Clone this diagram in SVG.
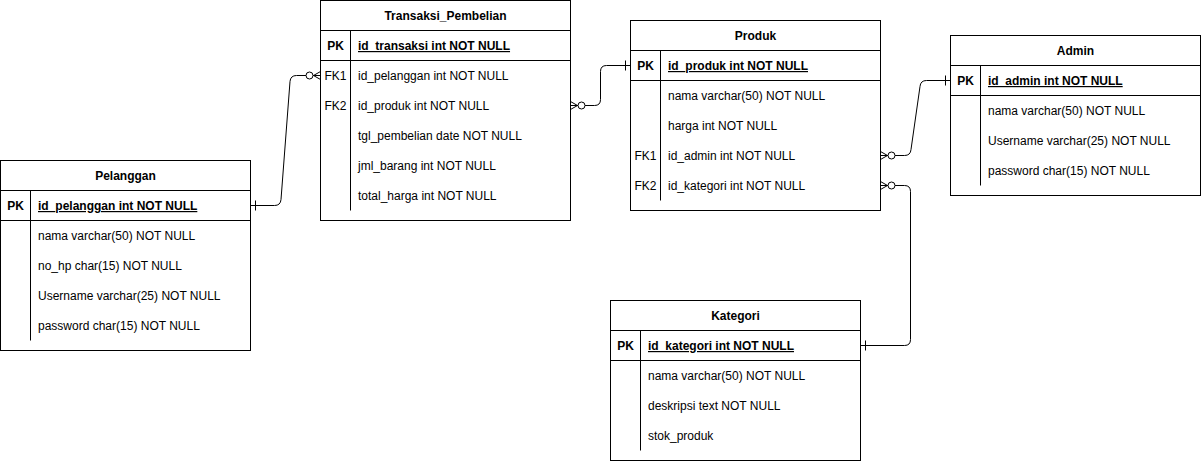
<svg xmlns="http://www.w3.org/2000/svg" width="1201" height="461" viewBox="0 0 1201 461">
<style>
.box{fill:#fff;stroke:#000;stroke-width:1}
.ln{stroke:#000;stroke-width:1;fill:none}
text{font-family:"Liberation Sans",Arial,sans-serif;font-size:12px;fill:#000}
.h{font-weight:bold;text-anchor:middle}
.k{text-anchor:middle}
.pk{font-weight:bold;text-decoration:underline}
.edge{stroke:#000;stroke-width:1;fill:none}
.circ{fill:#fff;stroke:#000;stroke-width:1}
</style>
<rect width="1201" height="461" fill="#fff"/>
<g id="pelanggan">
<rect class="box" x="0.5" y="160.5" width="250" height="190"/>
<path class="ln" d="M0.5 190.5H250.5M0.5 220.5H250.5M30.5 190.5V340.5"/>
<text class="h" x="125.5" y="180">Pelanggan</text>
<text class="k" x="15.5" y="210" font-weight="bold">PK</text>
<text class="pk" x="38" y="210">id_pelanggan int NOT NULL</text>
<text x="38" y="240">nama varchar(50) NOT NULL</text>
<text x="38" y="270">no_hp char(15) NOT NULL</text>
<text x="38" y="300">Username varchar(25) NOT NULL</text>
<text x="38" y="330">password char(15) NOT NULL</text>
</g>
<g id="transaksi">
<rect class="box" x="320.5" y="0.5" width="250" height="220"/>
<path class="ln" d="M320.5 30.5H570.5M320.5 60.5H570.5M350.5 30.5V210.5"/>
<text class="h" x="445.5" y="20">Transaksi_Pembelian</text>
<text class="k" x="335.5" y="50" font-weight="bold">PK</text>
<text class="pk" x="358" y="50">id_transaksi int NOT NULL</text>
<text class="k" x="335.5" y="80">FK1</text>
<text x="358" y="80">id_pelanggan int NOT NULL</text>
<text class="k" x="335.5" y="110">FK2</text>
<text x="358" y="110">id_produk int NOT NULL</text>
<text x="358" y="140">tgl_pembelian date NOT NULL</text>
<text x="358" y="170">jml_barang int NOT NULL</text>
<text x="358" y="200">total_harga int NOT NULL</text>
</g>
<g id="produk">
<rect class="box" x="630.5" y="20.5" width="250" height="190"/>
<path class="ln" d="M630.5 50.5H880.5M630.5 80.5H880.5M660.5 50.5V200.5"/>
<text class="h" x="755.5" y="40">Produk</text>
<text class="k" x="645.5" y="70" font-weight="bold">PK</text>
<text class="pk" x="668" y="70">id_produk int NOT NULL</text>
<text x="668" y="100">nama varchar(50) NOT NULL</text>
<text x="668" y="130">harga int NOT NULL</text>
<text class="k" x="645.5" y="160">FK1</text>
<text x="668" y="160">id_admin int NOT NULL</text>
<text class="k" x="645.5" y="190">FK2</text>
<text x="668" y="190">id_kategori int NOT NULL</text>
</g>
<g id="admin">
<rect class="box" x="950.5" y="35.5" width="250" height="160"/>
<path class="ln" d="M950.5 65.5H1200.5M950.5 95.5H1200.5M980.5 65.5V185.5"/>
<text class="h" x="1075.5" y="55">Admin</text>
<text class="k" x="965.5" y="85" font-weight="bold">PK</text>
<text class="pk" x="988" y="85">id_admin int NOT NULL</text>
<text x="988" y="115">nama varchar(50) NOT NULL</text>
<text x="988" y="145">Username varchar(25) NOT NULL</text>
<text x="988" y="175">password char(15) NOT NULL</text>
</g>
<g id="kategori">
<rect class="box" x="610.5" y="300.5" width="250" height="160"/>
<path class="ln" d="M610.5 330.5H860.5M610.5 360.5H860.5M640.5 330.5V450.5"/>
<text class="h" x="735.5" y="320">Kategori</text>
<text class="k" x="625.5" y="350" font-weight="bold">PK</text>
<text class="pk" x="648" y="350">id_kategori int NOT NULL</text>
<text x="648" y="380">nama varchar(50) NOT NULL</text>
<text x="648" y="410">deskripsi text NOT NULL</text>
<text x="648" y="440">stok_produk</text>
</g>
<g id="connectors">
<path class="edge" d="M250.5 205.5H274.5Q280.5 205.5 281 199.5L290 81.5Q290.5 75.5 296.5 75.5H320.5"/>
<path class="edge" d="M255.5 200.5V210.5"/>
<circle class="circ" cx="309.5" cy="75.5" r="3.5"/>
<path class="edge" d="M313.5 75.5L320.5 71.5M313.5 75.5L320.5 79.5"/>

<path class="edge" d="M570.5 105.5H594.5Q600.5 105.5 600.5 99.5V71.5Q600.5 65.5 606.5 65.5H630.5"/>
<path class="edge" d="M625.5 60.5V70.5"/>
<circle class="circ" cx="581.5" cy="105.5" r="3.5"/>
<path class="edge" d="M577.5 105.5L570.5 101.5M577.5 105.5L570.5 109.5"/>

<path class="edge" d="M880.5 155.5H904.5Q910.5 155.5 911 149.5L920 86.5Q920.5 80.5 926.5 80.5H950.5"/>
<path class="edge" d="M945.5 75.5V85.5"/>
<circle class="circ" cx="891.5" cy="155.5" r="3.5"/>
<path class="edge" d="M887.5 155.5L880.5 151.5M887.5 155.5L880.5 159.5"/>

<path class="edge" d="M880.5 185.5H904.5Q910.5 185.5 910.5 191.5V339.5Q910.5 345.5 904.5 345.5H860.5"/>
<path class="edge" d="M865.5 340.5V350.5"/>
<circle class="circ" cx="891.5" cy="185.5" r="3.5"/>
<path class="edge" d="M887.5 185.5L880.5 181.5M887.5 185.5L880.5 189.5"/>
</g>
</svg>
